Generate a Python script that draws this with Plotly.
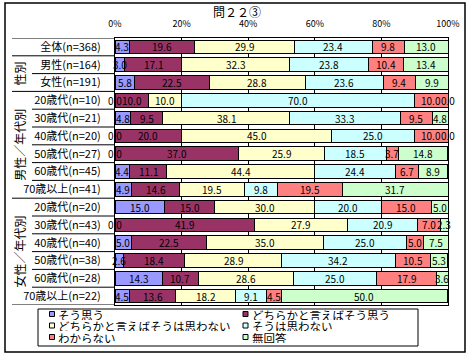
import plotly.graph_objects as go

# ---------------- data ----------------
categories = [
    "全体(n=368)", "男性(n=164)", "女性(n=191)",
    "20歳代(n=10)", "30歳代(n=21)", "40歳代(n=20)", "50歳代(n=27)", "60歳代(n=45)", "70歳以上(n=41)",
    "20歳代(n=20)", "30歳代(n=43)", "40歳代(n=40)", "50歳代(n=38)", "60歳代(n=28)", "70歳以上(n=22)",
]
series_names = [
    "そう思う", "どちらかと言えばそう思う", "どちらかと言えばそうは思わない",
    "そうは思わない", "わからない", "無回答",
]
so_omou = [4.3, 3.0, 5.8, 0.0, 4.8, 0.0, 0.0, 4.4, 4.9, 15.0, 0.0, 5.0, 2.6, 14.3, 4.5]
dochira_so_omou = [19.6, 17.1, 22.5, 10.0, 9.5, 20.0, 37.0, 11.1, 14.6, 15.0, 41.9, 22.5, 18.4, 10.7, 13.6]
dochira_omowanai = [29.9, 32.3, 28.8, 10.0, 38.1, 45.0, 25.9, 44.4, 19.5, 30.0, 27.9, 35.0, 28.9, 28.6, 18.2]
so_omowanai = [23.4, 23.8, 23.6, 70.0, 33.3, 25.0, 18.5, 24.4, 9.8, 20.0, 20.9, 25.0, 34.2, 25.0, 9.1]
wakaranai = [9.8, 10.4, 9.4, 10.0, 9.5, 10.0, 3.7, 6.7, 19.5, 15.0, 7.0, 5.0, 10.5, 17.9, 4.5]
mukaito = [13.0, 13.4, 9.9, 0.0, 4.8, 0.0, 14.8, 8.9, 31.7, 5.0, 2.3, 7.5, 5.3, 3.6, 50.0]
series_values = [so_omou, dochira_so_omou, dochira_omowanai, so_omowanai, wakaranai, mukaito]
colors = ["#9999FF", "#993366", "#FFFFCC", "#CCFFFF", "#FF8080", "#CCFFCC"]
x_ticks = [0, 20, 40, 60, 80, 100]
group_labels = ["性別", "男性／年代別", "女性／年代別"]
group_centers = [1.5, 5.5, 11.5]
title_text = "問２２③"

JP = "Noto Sans CJK JP"
W, H = 468, 355
L, R, T, B = 115, 20, 38, 50
PW, PH = W - L - R, H - T - B


def px_x(p):
    return (p - L) / PW


def px_y(p):
    return (H - B - p) / PH


ypos = list(range(len(categories)))

fig = go.Figure()
for name, vals, col in zip(series_names, series_values, colors):
    fig.add_trace(go.Bar(
        y=ypos, x=vals, name=name, orientation="h",
        marker=dict(color=col, line=dict(color="black", width=1)),
        hoverinfo="x+name", showlegend=False,
    ))

annotations = []
# data labels
for i in range(len(categories)):
    cum = 0.0
    for vals in series_values:
        v = vals[i]
        annotations.append(dict(
            x=cum + v / 2, y=i, xref="x", yref="y", text=f"{v:.1f}",
            xanchor="center", yanchor="middle",
            showarrow=False, font=dict(family=JP, size=10, color="black"),
        ))
        cum += v

# group labels (rotated)
for g, c in zip(group_labels, group_centers):
    annotations.append(dict(
        x=px_x(20), y=c, xref="paper", yref="y", text=g, textangle=-90,
        xanchor="center", yanchor="middle",
        showarrow=False, font=dict(family=JP, size=12, color="black"),
    ))

# title
annotations.append(dict(
    x=px_x(237), y=px_y(12), xref="paper", yref="paper", text=title_text,
    xanchor="center", yanchor="middle",
    showarrow=False, font=dict(family=JP, size=12, color="black"),
))

shapes = []
# outer frame
shapes.append(dict(type="rect", xref="paper", yref="paper",
                   x0=px_x(5), x1=px_x(465), y0=px_y(3), y1=px_y(352),
                   line=dict(color="black", width=1.5)))
# category separators
long_lines = {-0.5, 0.5, 2.5, 8.5, 14.5}
for k in range(len(categories) + 1):
    yb = k - 0.5
    x0 = px_x(12) if yb in long_lines else px_x(32)
    shapes.append(dict(type="line", xref="paper", yref="y", x0=x0, x1=0, y0=yb, y1=yb,
                       line=dict(color="black", width=1)))

# legend drawn as a boxed 3 x 2 key
shapes.append(dict(type="rect", xref="paper", yref="paper",
                   x0=px_x(38), x1=px_x(418), y0=px_y(309), y1=px_y(346),
                   line=dict(color="black", width=1)))
row_y = [314, 325.5, 337]
col_x = [49.5, 243]
for idx, (name, col) in enumerate(zip(series_names, colors)):
    r, c = idx // 2, idx % 2
    cx, cy = col_x[c], row_y[r]
    shapes.append(dict(type="rect", xref="paper", yref="paper",
                       x0=px_x(cx), x1=px_x(cx + 5), y0=px_y(cy - 2.5), y1=px_y(cy + 2.5),
                       fillcolor=col, line=dict(color="black", width=1)))
    annotations.append(dict(
        x=px_x(cx + 6.5), y=px_y(cy), xref="paper", yref="paper", text=name,
        xanchor="left", yanchor="middle", height=11, valign="middle", showarrow=False,
        font=dict(family=JP, size=11.5, color="black"),
    ))

fig.update_layout(
    template="none",
    width=W, height=H, barmode="stack", bargap=0.24,
    margin=dict(l=L, r=R, t=T, b=B, pad=0, autoexpand=False),
    paper_bgcolor="white", plot_bgcolor="white",
    font=dict(family=JP, color="black"),
    showlegend=False,
    xaxis=dict(
        side="top", range=[0, 100], tickvals=x_ticks,
        ticktext=[f"{t}%" for t in x_ticks], automargin=False,
        showgrid=True, gridcolor="black", gridwidth=1, zeroline=False,
        showline=True, linecolor="black", linewidth=1, mirror=True,
        ticks="", ticklabelstandoff=6, tickfont=dict(family=JP, size=9, color="black"),
        fixedrange=True,
    ),
    yaxis=dict(
        tickvals=ypos, ticktext=categories, range=[len(categories) - 0.5, -0.5],
        automargin=False,
        showgrid=False, zeroline=False, showline=True, linecolor="black", linewidth=1,
        mirror=True, ticks="", ticklabelstandoff=11,
        tickfont=dict(family=JP, size=11, color="black"), fixedrange=True,
    ),
    shapes=shapes, annotations=annotations,
)

fig.write_html("out.html", config={"displayModeBar": False},
               post_script="document.body.style.margin='0px';")
